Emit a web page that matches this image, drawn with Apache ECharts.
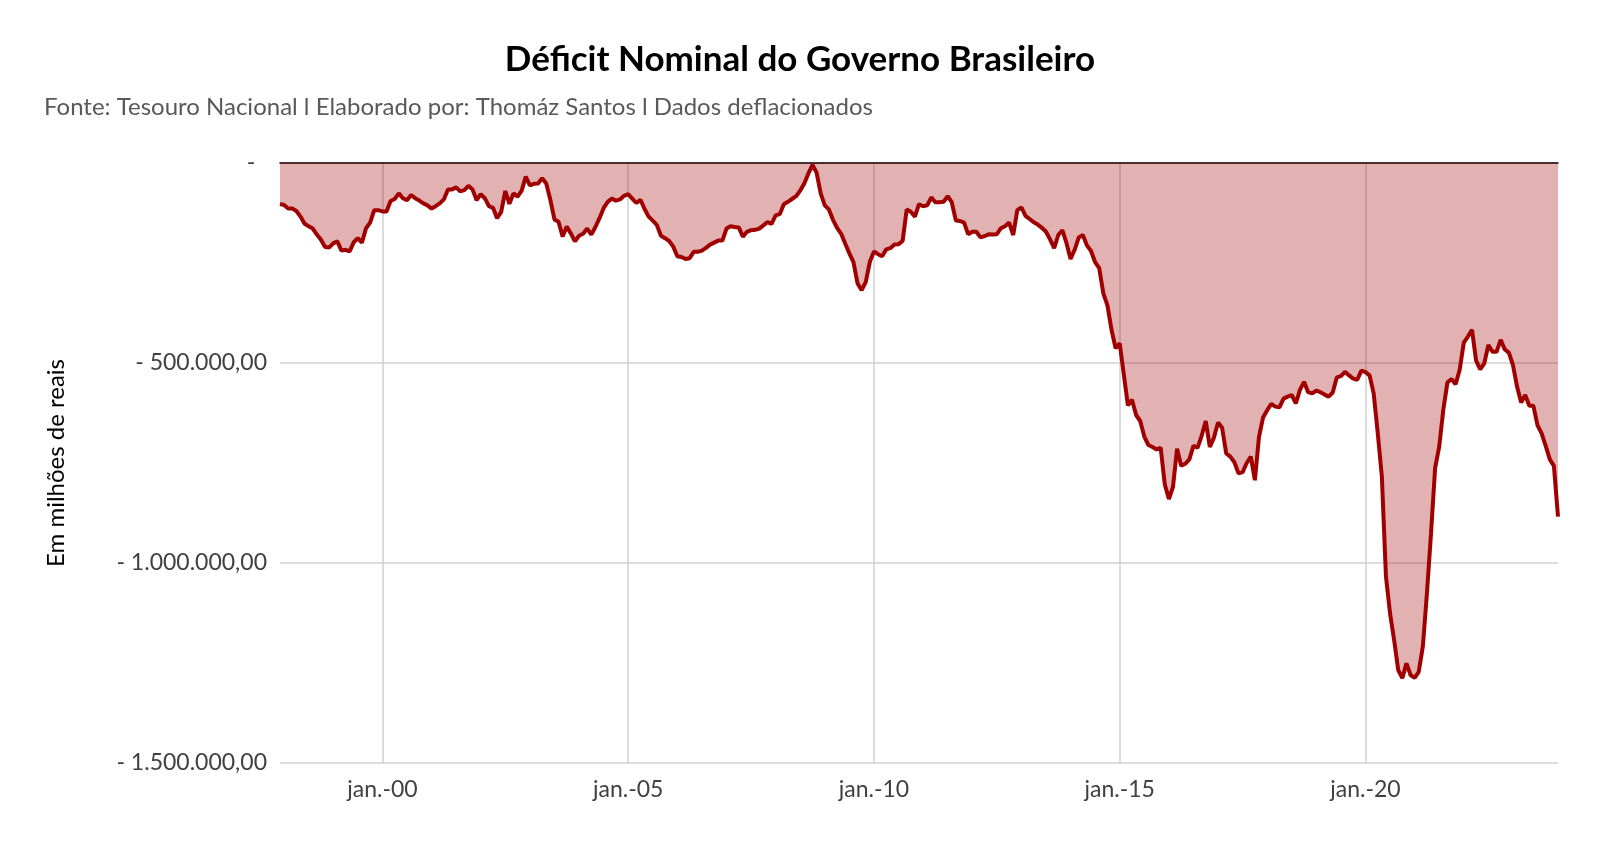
<!DOCTYPE html>
<html>
<head>
    <meta charset="UTF-8">
    <title>Déficit Nominal do Governo Brasileiro</title>
    <script type="text/javascript" src="https://cdn.jsdelivr.net/npm/echarts@6/dist/echarts.min.js"></script>
</head>
<body style="margin:0;">
    <div id="deficit" style="width:1600px; height:847px;"></div>
    <script>
        // déficit nominal acumulado, em mil milhões de reais (x1000 = milhões)
        // dez/1997 - dez/2002
        var deficit1997a2002 = [-102.5,-105,-114,-114,-120,-134,-152,-158,-164,-179,-192,-210,-211,
            -201,-196,-219,-217,-221,-198,-188,-199,-163,-149,-118,-118,
            -121,-121,-95,-90,-76,-88,-93,-80,-88,-94,-101,-106,
            -114,-108,-101,-91,-66,-66,-61,-71,-68,-57,-66,-93,
            -78,-88,-108,-112,-138,-122,-70,-102,-76,-84,-69,-34];
        // jan/2003 - dez/2007
        var deficit2003a2007 = [-56,-52,-51,-38,-51,-92,-141,-147,-184,-159,-176,-196,
            -182,-177,-164,-179,-160,-138,-113,-97,-89,-94,-91,-82,
            -78,-89,-100,-92,-115,-134,-144,-155,-182,-188,-195,-209,
            -233,-235,-240,-238,-222,-222,-219,-212,-204,-199,-194,-194,
            -164,-158,-160,-161,-184,-172,-168,-167,-164,-156,-148,-152];
        // jan/2008 - dez/2012
        var deficit2008a2012 = [-131,-128,-103,-97,-90,-83,-69,-51,-26,-5,-24,-76,
            -106,-116,-142,-162,-177,-202,-226,-248,-301,-318,-298,-247,
            -221,-228,-233,-216,-213,-204,-203,-195,-116,-122,-134,-103,
            -108,-106,-86,-98,-98,-97,-83,-98,-144,-145,-149,-178,
            -172,-172,-186,-183,-178,-179,-178,-163,-158,-149,-180,-118];
        // jan/2013 - dez/2017
        var deficit2013a2017 = [-111,-132,-140,-148,-154,-162,-172,-191,-213,-180,-168,-200,
            -240,-217,-186,-180,-206,-220,-248,-263,-326,-356,-417,-463,
            -451,-529,-606,-592,-630,-645,-684,-705,-710,-716,-712,-803,
            -840,-810,-714,-757,-752,-741,-707,-712,-682,-645,-710,-687,
            -649,-662,-726,-734,-748,-776,-773,-750,-734,-793,-685,-636];
        // jan/2018 - dez/2023
        var deficit2018a2023 = [-618,-602,-609,-611,-589,-584,-580,-601,-567,-547,-573,-576,
            -569,-573,-579,-584,-574,-536,-533,-522,-531,-539,-542,-519,
            -523,-531,-576,-676,-784,-1034,-1126,-1193,-1268,-1288,-1251,-1280,
            -1287,-1272,-1209,-1076,-926,-763,-709,-617,-549,-540,-553,-517,
            -449,-434,-417,-494,-516,-501,-455,-472,-472,-442,-466,-474,
            -505,-559,-599,-580,-607,-607,-656,-676,-707,-741,-757,-884];

        var yTicks = [0, -500000, -1000000, -1500000];
        var anosMarcados = ['00', '05', '10', '15', '20'];
        var mesesAbrev = ['jan.', 'fev.', 'mar.', 'abr.', 'mai.', 'jun.', 'jul.', 'ago.', 'set.', 'out.', 'nov.', 'dez.'];

        var valores = [].concat(deficit1997a2002, deficit2003a2007, deficit2008a2012,
            deficit2013a2017, deficit2018a2023).map(function (v) { return v * 1000; });

        // meses de dez/1997 em diante
        var meses = [];
        for (var k = 0; k < valores.length; k++) {
            var m = (11 + k) % 12;
            var a = 1997 + Math.floor((11 + k) / 12);
            meses.push(mesesAbrev[m] + '-' + String(a).slice(2));
        }
        function marcado(idx) {
            var lab = meses[idx];
            return lab.indexOf('jan.') === 0 && anosMarcados.indexOf(lab.slice(5)) >= 0;
        }

        function formatoContabil(v) {
            if (v === 0) return '-  ';
            var s = Math.abs(v).toFixed(0).replace(/\B(?=(\d{3})+(?!\d))/g, '.');
            return '- ' + s + ',00';
        }

        var chart = echarts.init(document.getElementById('deficit'), null, {renderer: 'canvas'});
        var option = {
            animation: false,
            backgroundColor: '#ffffff',
            textStyle: {fontFamily: 'Lato'},
            title: [
                {
                    text: 'Déficit Nominal do Governo Brasileiro',
                    left: 'center',
                    top: 37,
                    textStyle: {fontFamily: 'Lato', fontWeight: 'bold', fontSize: 35, color: '#000000'}
                },
                {
                    text: 'Fonte: Tesouro Nacional l Elaborado por: Thomáz Santos l Dados deflacionados',
                    left: 39,
                    top: 90,
                    textStyle: {fontFamily: 'Lato', fontWeight: 'normal', fontSize: 24, color: '#595959'}
                }
            ],
            grid: {left: 280, right: 42, top: 163, bottom: 84, containLabel: false},
            xAxis: [
                {
                    type: 'category',
                    data: meses,
                    boundaryGap: false,
                    position: 'bottom',
                    axisLine: {show: false, onZero: false},
                    axisTick: {show: false},
                    axisLabel: {
                        interval: function (idx) { return marcado(idx); },
                        color: '#404040',
                        fontSize: 23,
                        margin: 15
                    },
                    splitLine: {
                        show: true,
                        interval: function (idx) { return marcado(idx); },
                        lineStyle: {color: '#d0d0d0', width: 1.5}
                    }
                },
                {
                    type: 'category',
                    data: meses,
                    boundaryGap: false,
                    position: 'top',
                    axisLine: {show: true, onZero: false, lineStyle: {color: '#000000', width: 1.5}},
                    axisTick: {show: false},
                    axisLabel: {show: false},
                    splitLine: {show: false}
                }
            ],
            yAxis: {
                type: 'value',
                min: yTicks[3],
                max: yTicks[0],
                interval: 500000,
                name: 'Em milhões de reais',
                nameLocation: 'middle',
                nameGap: 212,
                nameTextStyle: {fontSize: 24, color: '#000000'},
                axisLine: {show: false},
                axisTick: {show: false},
                axisLabel: {
                    formatter: formatoContabil,
                    color: '#404040',
                    fontSize: 23,
                    margin: 13
                },
                splitLine: {lineStyle: {color: '#d0d0d0', width: 1.5}}
            },
            series: [
                {
                    type: 'line',
                    name: 'Déficit nominal',
                    xAxisIndex: 0,
                    data: valores,
                    symbol: 'none',
                    smooth: false,
                    lineStyle: {color: '#a00000', width: 4},
                    itemStyle: {color: '#a00000'},
                    areaStyle: {color: '#a00000', opacity: 0.3, origin: 'end'}
                }
            ]
        };
        chart.setOption(option);
    </script>
</body>
</html>
